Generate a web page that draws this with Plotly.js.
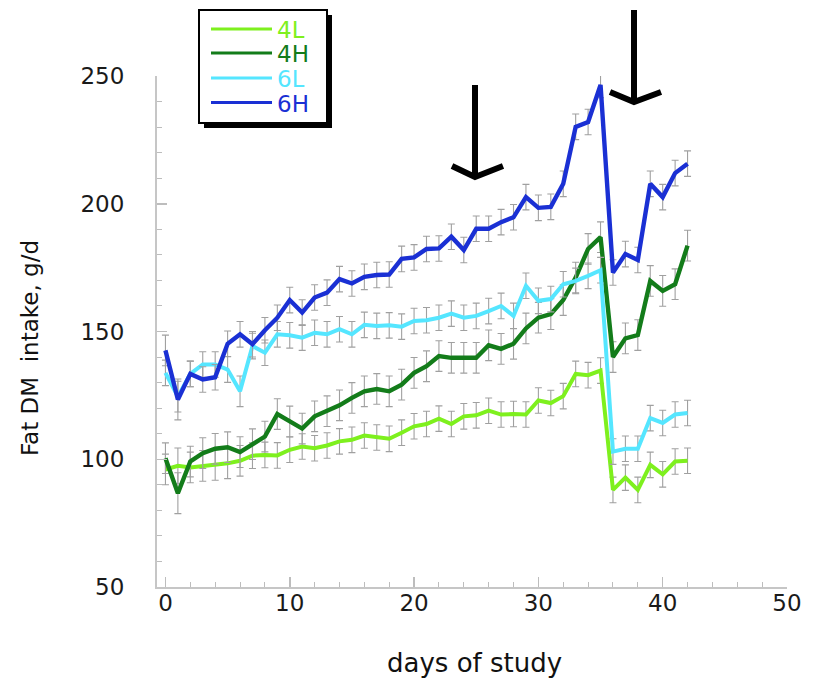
<!DOCTYPE html>
<html>
<head>
<meta charset="utf-8">
<script src="https://cdn.plot.ly/plotly-3.0.1.min.js"></script>
<style>
  html, body { margin: 0; padding: 0; background: #ffffff; }
  #chart { width: 813px; height: 678px; }
</style>
</head>
<body>
<div id="chart"></div>
<script>
// ---- data ----
var days = [0,1,2,3,4,5,6,7,8,9,10,11,12,13,14,15,16,17,18,19,20,21,22,23,24,25,26,27,28,29,30,31,32,33,34,35,36,37,38,39,40,41,42];

var seriesNames = ["4L", "4H", "6L", "6H"];

var val4L = [96.0,97.4,96.8,97.4,97.8,98.4,99.4,101.4,101.7,101.5,103.7,105.0,104.3,105.4,107.0,107.6,109.3,108.5,108.0,110.4,112.9,113.8,115.9,113.8,116.8,117.2,119.0,117.5,117.7,117.5,123.0,122.0,124.7,133.4,132.9,134.7,88.0,92.8,88.0,97.8,94.1,99.1,99.4];
var val4H = [100.4,86.7,99.1,102.4,104.1,104.7,102.8,105.9,108.9,117.7,114.8,112.0,116.8,118.8,121.1,124.0,126.6,127.5,126.6,129.2,133.8,136.4,140.4,139.7,139.7,139.7,144.6,143.2,145.2,151.2,155.4,156.8,162.3,171.1,182.3,186.9,140.0,147.3,148.6,169.8,165.9,168.5,183.6];
var val6L = [133.8,124.5,133.4,137.1,137.1,135.1,126.6,144.3,141.7,148.9,148.5,147.6,149.5,148.9,150.9,148.9,152.6,152.2,152.4,151.9,154.1,154.4,155.4,157.0,155.4,156.1,158.0,160.0,156.1,167.9,162.0,162.7,168.5,169.8,171.8,174.0,103.0,104.1,104.1,116.1,114.2,117.5,118.1];
var val6H = [142.6,123.4,133.4,131.2,132.1,145.2,148.9,145.0,150.5,155.4,162.3,157.4,163.3,165.2,170.5,168.8,171.4,172.1,172.3,178.4,179.0,182.3,182.5,187.1,181.9,190.2,190.2,192.8,194.7,202.6,198.4,198.8,207.8,230.1,232.0,246.5,173.1,180.3,178.0,207.8,202.6,212.0,215.7];

var err4L = [6,7,6,6,6,6,6,5,5,5,5,5,5,5,5,5,5,5,5,5,5,5,5,5,5,5,5,5,5,5,5,5,5,5,5,5,5,5,5,5,5,5,5];
var err4H = [6,8,6,6,6,6,6,6,6,6,6,6,6,6,6,6,6,6,6,6,6,6,6,6,6,6,6,6,6,6,6,6,6,6,6,6,6,6,6,6,6,6,6];
var err6L = [5,6,5,5,5,5,6,5,5,5,5,5,5,5,5,5,5,5,5,5,5,5,5,5,5,5,5,5,5,5,5,5,5,5,5,5,5,5,5,5,5,5,5];
var err6H = [6,8,5,5,5,5,5,5,5,5,5,5,5,5,5,5,5,5,5,5,5,5,5,5,5,5,5,5,5,5,5,5,5,5,5,5,5,5,5,5,5,5,5];

var xTickVals = [0,10,20,30,40,50];
var yTickVals = [50,100,150,200,250];

// ---- styles ----
var colors = ["#7EF01E", "#137C1A", "#55E6FF", "#1A30D4"];
var widths = [4, 4.4, 4, 4.4];
var values = [val4L, val4H, val6L, val6H];
var errors = [err4L, err4H, err6L, err6H];

var FONT = "DejaVu Sans, Arial, sans-serif";

// plot-area pixel geometry (for placing decorations in paper coords)
var W = 813, H = 678;
var M = {l: 157, r: 26, t: 76, b: 91};
var PW = W - M.l - M.r, PH = H - M.t - M.b;
function px(x) { return (x - M.l) / PW; }
function py(y) { return (H - M.b - y) / PH; }

var traces = seriesNames.map(function (n, i) {
  return {
    type: "scatter",
    mode: "lines",
    name: n,
    x: days,
    y: values[i],
    line: {color: colors[i], width: widths[i]},
    error_y: {type: "data", array: errors[i], visible: true, color: "#a0a0a0", thickness: 1.1, width: 3.5},
    cliponaxis: false,
    showlegend: false,
    hoverinfo: "x+y+name"
  };
});

var shapes = [];
var annotations = [];

// manual legend with drop shadow
shapes.push({type: "rect", xref: "paper", yref: "paper", x0: px(204), x1: px(332), y0: py(128), y1: py(15),
  fillcolor: "#000000", line: {width: 0}});
shapes.push({type: "rect", xref: "paper", yref: "paper", x0: px(199), x1: px(327), y0: py(123), y1: py(10),
  fillcolor: "#ffffff", line: {color: "#000000", width: 2}});
var legY = [29, 53, 78, 102.5];
seriesNames.forEach(function (n, i) {
  shapes.push({type: "line", xref: "paper", yref: "paper", x0: px(211), x1: px(272), y0: py(legY[i]), y1: py(legY[i]),
    line: {color: colors[i], width: 3}});
  annotations.push({xref: "paper", yref: "paper", x: px(276), y: py(legY[i] + 1), xanchor: "left", yanchor: "middle",
    text: n, showarrow: false, borderpad: 0, height: 22,
    font: {family: FONT, size: 23, color: colors[i]}});
});

// arrows
function arrowPath(x, yTop, yTip, halfL, halfR, armRise) {
  var s = "M" + px(x) + "," + py(yTop) + " L" + px(x) + "," + py(yTip);
  s += " M" + px(x - halfL) + "," + py(yTip - armRise) + " L" + px(x) + "," + py(yTip) + " L" + px(x + halfR) + "," + py(yTip - armRise);
  return s;
}
shapes.push({type: "path", xref: "paper", yref: "paper", path: arrowPath(475, 85, 177, 23, 28, 11),
  line: {color: "#000000", width: 6}});
shapes.push({type: "path", xref: "paper", yref: "paper", path: arrowPath(634, 10, 102, 24, 27, 10),
  line: {color: "#000000", width: 6}});

// axis titles
annotations.push({xref: "paper", yref: "paper", x: px(30), y: py(348), xanchor: "center", yanchor: "middle",
  textangle: -90, text: "Fat DM\u00a0 intake, g/d", showarrow: false, font: {family: FONT, size: 23, color: "#111111"}});
annotations.push({xref: "paper", yref: "paper", x: px(474), y: py(663), xanchor: "center", yanchor: "middle",
  text: "days of study", showarrow: false, font: {family: FONT, size: 26, color: "#111111"}});

var axisCommon = {
  showgrid: false, zeroline: false, showline: true, linecolor: "#c6c6c6", linewidth: 2,
  ticks: "inside", ticklen: 10, tickwidth: 1.5, tickcolor: "#bdbdbd",
  tickfont: {family: FONT, size: 23, color: "#1a1a1a"},
  fixedrange: true
};

var layout = {
  width: W, height: H,
  margin: M,
  paper_bgcolor: "#ffffff", plot_bgcolor: "#ffffff",
  showlegend: false,
  xaxis: Object.assign({}, axisCommon, {
    range: [-0.68, 50], tickmode: "array", tickvals: xTickVals, ticktext: xTickVals.map(String),
    ticklabelstandoff: -6,
    minor: {dtick: 2, tick0: 0, ticks: "inside", ticklen: 5, tickwidth: 1, tickcolor: "#bdbdbd", showgrid: false}
  }),
  yaxis: Object.assign({}, axisCommon, {
    range: [50, 250], tickmode: "array", tickvals: yTickVals, ticktext: yTickVals.map(String),
    ticklabelstandoff: 26,
    minor: {dtick: 10, tick0: 0, ticks: "inside", ticklen: 5, tickwidth: 1, tickcolor: "#bdbdbd", showgrid: false}
  }),
  shapes: shapes,
  annotations: annotations
};

Plotly.newPlot("chart", traces, layout, {displayModeBar: false, staticPlot: true});
</script>
</body>
</html>
